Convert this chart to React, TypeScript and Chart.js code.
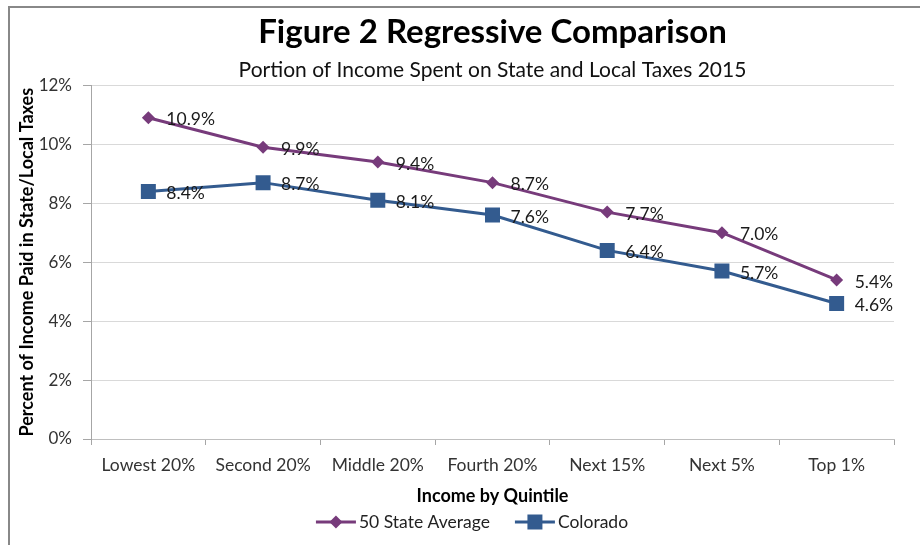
import React, { useEffect, useRef } from "react";
import { Chart, registerables } from "chart.js";

Chart.register(...registerables);

const categories = ["Lowest 20%", "Second 20%", "Middle 20%", "Fourth 20%", "Next 15%", "Next 5%", "Top 1%"];
const stateAverage = [10.9, 9.9, 9.4, 8.7, 7.7, 7.0, 5.4];
const colorado = [8.4, 8.7, 8.1, 7.6, 6.4, 5.7, 4.6];
const seriesNames = ["50 State Average", "Colorado"];

const PURPLE = "#773B7B";
const BLUE = "#335B8F";
const FONT = "Lato, 'Open Sans', sans-serif";

function drawMarker(ctx: CanvasRenderingContext2D, kind: string, x: number, y: number, color: string) {
  ctx.fillStyle = color;
  ctx.beginPath();
  if (kind === "diamond") {
    ctx.moveTo(x - 6.5, y);
    ctx.lineTo(x, y - 6.5);
    ctx.lineTo(x + 6.5, y);
    ctx.lineTo(x, y + 6.5);
    ctx.closePath();
  } else {
    ctx.rect(x - 7.5, y - 7.5, 15, 15);
  }
  ctx.fill();
}

const dataLabelPlugin = {
  id: "dataLabels",
  afterDatasetsDraw(chart: any) {
    const ctx = chart.ctx;
    ctx.save();
    ctx.font = `17.5px ${FONT}`;
    ctx.fillStyle = "#1a1a1a";
    ctx.textAlign = "left";
    ctx.textBaseline = "middle";
    chart.data.datasets.forEach((ds: any, di: number) => {
      const meta = chart.getDatasetMeta(di);
      meta.data.forEach((el: any, i: number) => {
        const v = ds.data[i] as number;
        ctx.fillText(v.toFixed(1) + "%", el.x + 18, el.y + 2);
      });
    });
    ctx.restore();
  },
};

const customLegendPlugin = {
  id: "customLegend",
  afterDraw(chart: any) {
    const ctx = chart.ctx as CanvasRenderingContext2D;
    ctx.save();
    ctx.font = `17.5px ${FONT}`;
    ctx.textBaseline = "middle";
    ctx.textAlign = "left";
    const kinds = ["diamond", "square"];
    const items = chart.data.datasets.map((ds: any, i: number) => ({
      text: ds.label as string,
      color: ds.borderColor as string,
      kind: kinds[i],
      w: 40 + 3 + ctx.measureText(ds.label).width,
    }));
    const gap = 25;
    const total = items.reduce((s: number, it: any) => s + it.w, 0) + gap * (items.length - 1);
    const centerX = chart.width / 2 + 12;
    const y = chart.height - 23;
    let x = centerX - total / 2;
    items.forEach((it: any) => {
      ctx.strokeStyle = it.color;
      ctx.lineWidth = 3;
      ctx.beginPath();
      ctx.moveTo(x, y);
      ctx.lineTo(x + 40, y);
      ctx.stroke();
      drawMarker(ctx, it.kind, x + 20, y, it.color);
      ctx.fillStyle = "#222";
      ctx.fillText(it.text, x + 43, y);
      x += it.w + gap;
    });
    ctx.restore();
  },
};

export default function App() {
  const ref = useRef<HTMLCanvasElement | null>(null);

  useEffect(() => {
    if (!ref.current) return;
    const chart = new Chart(ref.current, {
      type: "line",
      data: {
        labels: categories,
        datasets: [
          {
            label: seriesNames[0],
            data: stateAverage,
            borderColor: PURPLE,
            backgroundColor: PURPLE,
            borderWidth: 3,
            pointStyle: "rectRot",
            pointRadius: 6.5,
            pointBorderWidth: 0,
            tension: 0,
          },
          {
            label: seriesNames[1],
            data: colorado,
            borderColor: BLUE,
            backgroundColor: BLUE,
            borderWidth: 3,
            pointStyle: "rect",
            pointRadius: 10.6,
            pointBorderWidth: 0,
            tension: 0,
          },
        ],
      },
      options: {
        responsive: false,
        animation: false,
        layout: { padding: { left: 10, right: 26, top: 0, bottom: 38.4 } },
        plugins: {
          title: {
            display: true,
            fullSize: false,
            text: "Figure 2 Regressive Comparison",
            font: { family: FONT, size: 33, weight: "bold" },
            color: "#000",
            padding: { top: 13, bottom: 4.6 },
          },
          subtitle: {
            display: true,
            fullSize: false,
            text: "Portion of Income Spent on State and Local Taxes 2015",
            font: { family: FONT, size: 21 },
            color: "#111",
            padding: { top: 0, bottom: 3 },
          },
          legend: { display: false },
          tooltip: { enabled: false },
        },
        scales: {
          x: {
            offset: true,
            grid: {
              offset: true,
              drawOnChartArea: false,
              drawTicks: true,
              tickLength: 6,
              color: "#A6A6A6",
            },
            border: { color: "#BFBFBF", width: 1 },
            ticks: {
              font: { family: FONT, size: 17.5 },
              color: "#333",
              padding: 9.5,
              maxRotation: 0,
            },
            title: {
              display: true,
              text: "Income by Quintile",
              font: { family: FONT, size: 18, weight: "bold" },
              color: "#000",
              padding: { top: 0, bottom: 0 },
            },
          },
          y: {
            min: 0,
            max: 12,
            afterFit: (scale: any) => {
              scale.width = 81;
            },
            grid: {
              color: "#D9D9D9",
              tickColor: "#A6A6A6",
              tickLength: 8,
            },
            border: { color: "#A6A6A6", width: 1 },
            ticks: {
              stepSize: 2,
              font: { family: FONT, size: 17 },
              color: "#333",
              padding: 11,
              callback: (v: any) => v + "%",
            },
            title: {
              display: true,
              text: "Percent of Income Paid in State/Local Taxes",
              font: { family: FONT, size: 18, weight: "bold" },
              color: "#000",
              padding: { top: 6, bottom: 2 },
            },
          },
        },
      },
      plugins: [dataLabelPlugin, customLegendPlugin],
    });
    return () => chart.destroy();
  }, []);

  return (
    <div style={{ position: "absolute", left: 0, top: 0, width: 920, height: 545, background: "#fff" }}>
      <canvas ref={ref} width={920} height={545} style={{ position: "absolute", left: 0, top: 0 }} />
      <div
        style={{
          position: "absolute",
          left: 8,
          top: 6,
          right: 0,
          bottom: 0,
          borderTop: "2px solid #888",
          borderLeft: "2px solid #888",
          pointerEvents: "none",
        }}
      />
    </div>
  );
}
